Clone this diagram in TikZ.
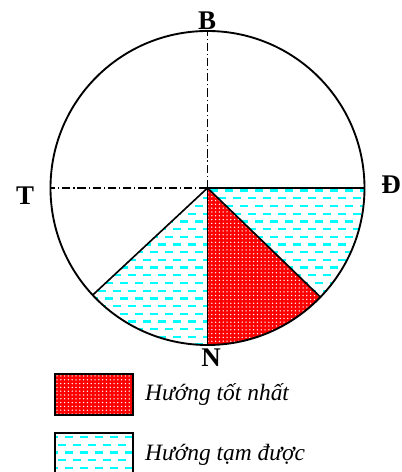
\documentclass[tikz,border=0pt]{standalone}
\usepackage{fontspec}
\setmainfont{Liberation Serif}
\usetikzlibrary{calc}
\definecolor{Ink}{HTML}{000000}
\definecolor{BestRed}{HTML}{FF0000}
\definecolor{OkCyan}{HTML}{00FFFF}
\tikzset{
  rim/.style={draw=Ink,line width=1.6pt},
  ray/.style={draw=Ink,line width=1.4pt},
  axis/.style={draw=Ink,line width=0.9pt,dash pattern=on 7pt off 2.5pt on 1pt off 2.5pt},
  compass/.style={font=\fontsize{23}{26}\selectfont\bfseries,inner sep=0pt},
  legendtext/.style={font=\fontsize{20}{24}\selectfont\itshape,anchor=west,inner sep=0pt},
  legendbox/.style={draw=Ink,line width=1.4pt},
  cdash/.style={OkCyan,line width=1.9pt}
}
% white dot grid: x0, y0, columns, rows
\newcommand{\dotgrid}[4]{\foreach \r in {0,...,#4}{\foreach \c in {0,...,#3}{
  \fill[white] ({#1+\c*3.8},{#2+\r*3.8}) circle (0.75);}}}
% staggered cyan dashes: x0, y0, columns, rows
\newcommand{\dashrows}[4]{\foreach \r in {0,...,#4}{\foreach \c in {0,...,#3}{
  \draw[cdash] ({#1+\c*15+mod(\r,2)*7.5},{#2+\r*7.7}) -- ++(8,0);}}}

\begin{document}
\begin{tikzpicture}[x=0.03cm,y=0.03cm]
  \useasboundingbox (0,0) rectangle (402,472);
  \coordinate (O) at (207.5,284);
  \coordinate (pN) at ($(O)+(90:157)$);
  \coordinate (pW) at ($(O)+(180:157)$);
  \coordinate (pS) at ($(O)+(270:157)$);
  \coordinate (pE) at ($(O)+(0:157)$);
  \coordinate (pSE) at ($(O)+(316:157)$);
  \coordinate (pSW) at ($(O)+(223:157)$);

  % acceptable directions
  \begin{scope}
    \clip (O) -- (pSW) arc[start angle=223,end angle=360,radius=157] -- cycle;
    \dashrows{45}{127.4}{22}{20}
  \end{scope}
  % best direction
  \begin{scope}
    \clip (O) -- (pS) arc[start angle=270,end angle=316,radius=157] -- cycle;
    \fill[BestRed] (200,120) rectangle (330,290);
    \dotgrid{208}{127}{30}{42}
  \end{scope}

  \draw[rim] (O) circle[radius=157];
  \draw[axis] (O) -- (pN);
  \draw[axis] (O) -- (pW);
  \draw[ray] (O) -- (pE);
  \draw[ray] (O) -- (pSE);
  \draw[ray] (O) -- (pS);
  \draw[ray] (O) -- (pSW);

  \node[compass] (north) at (207,451) {B};
  \node[compass] (west) at (25,276) {T};
  \node[compass] (east) at (391,287) {Đ};
  \node[compass] (south) at (211,114) {N};

  % legend
  \begin{scope}
    \clip (55,57) rectangle (133,98);
    \fill[BestRed] (55,57) rectangle (133,98);
    \dotgrid{57}{58}{20}{10}
  \end{scope}
  \draw[legendbox] (55,57) rectangle (133,98);
  \begin{scope}
    \clip (55,-3) rectangle (133,39);
    \dashrows{50}{4}{6}{4}
  \end{scope}
  \draw[legendbox] (55,-3) rectangle (133,39);
  \node[legendtext] (best) at (145,77) {Hướng tốt nhất};
  \node[legendtext] (okay) at (145,17) {Hướng tạm được};
\end{tikzpicture}
\end{document}
